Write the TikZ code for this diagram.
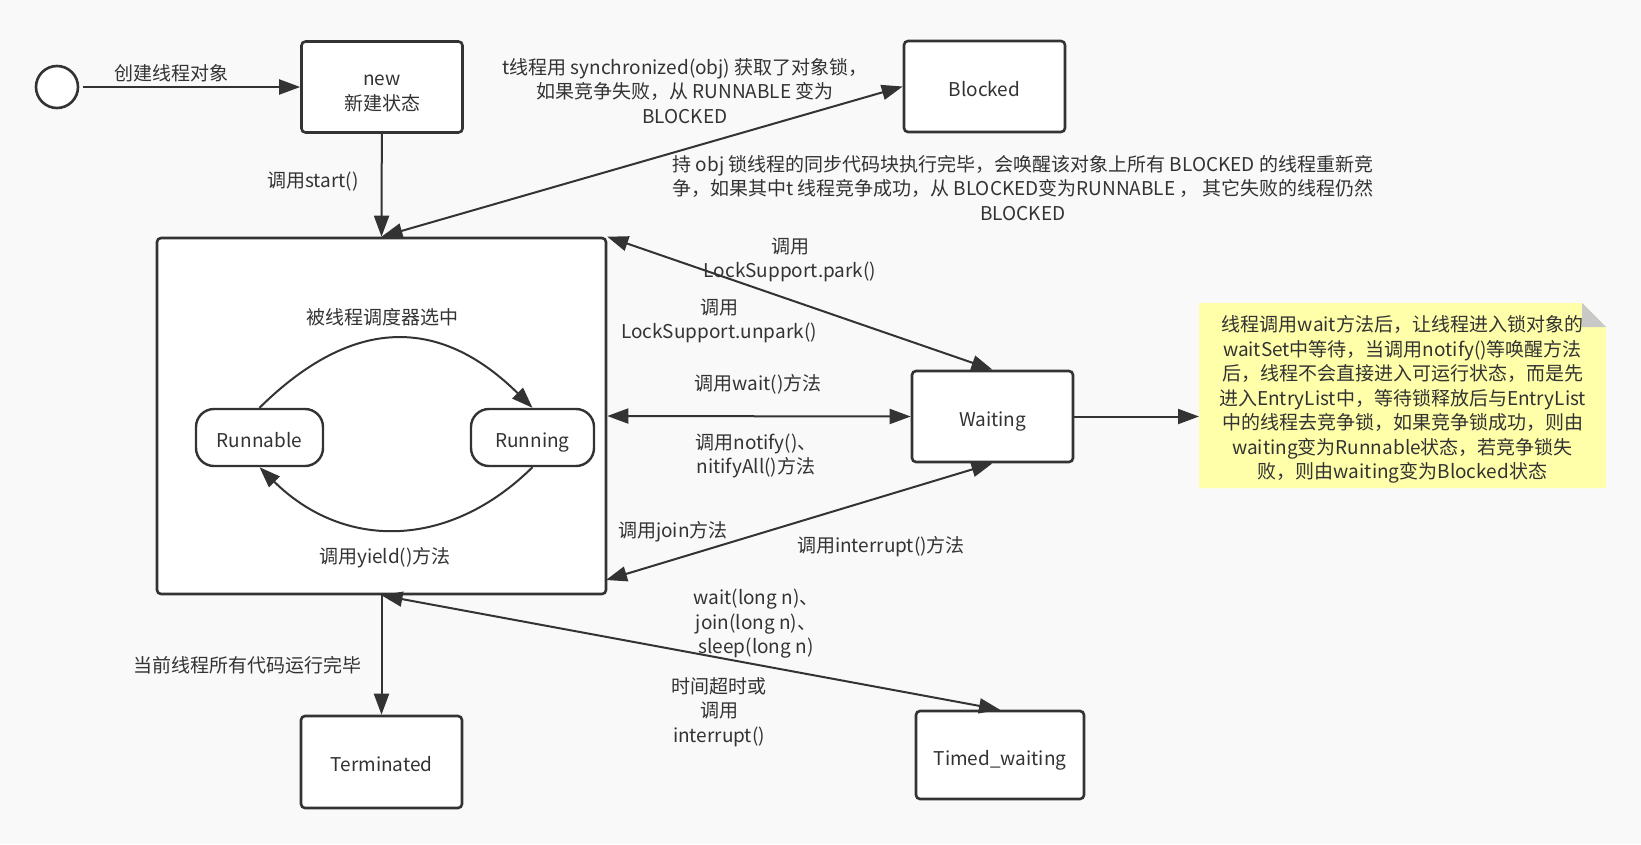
\documentclass[tikz,border=0pt]{standalone}
\usepackage{fontspec}
\setmainfont{Noto Sans CJK SC}
\usetikzlibrary{arrows.meta}
\definecolor{ink}{HTML}{333333}
\definecolor{paper}{HTML}{F9F9F9}
\definecolor{notefill}{HTML}{FFFFAA}
\definecolor{foldfill}{HTML}{C8C8C8}

\begin{document}
\begin{tikzpicture}[x=1pt,y=-1pt,
  every node/.style={text=ink, font=\fontsize{19}{24.5}\selectfont, inner sep=0pt},
  lbl/.style={align=center},
  boxbase/.style={draw=ink, fill=white, line width=2.6pt, rounded corners=4pt,
    minimum width=161pt, minimum height=91pt},
  statebox/.style={boxbase, text height=20pt, text depth=0pt},
  twolinebox/.style={boxbase, align=center},
  pill/.style={draw=ink, fill=white, line width=2.4pt, rounded corners=18pt,
    minimum height=57pt, text height=19pt, text depth=0pt},
  startdot/.style={circle, draw=ink, fill=white, line width=2.6pt, minimum size=42pt},
  link/.style={draw=ink, line width=2pt, -{Triangle[length=21pt,width=15pt]}},
  twoway/.style={draw=ink, line width=2pt,
    {Triangle[length=21pt,width=15pt]}-{Triangle[length=21pt,width=15pt]}},
]
% page
\fill[paper] (0,0) rectangle (1641,844);
\useasboundingbox (0,0) rectangle (1641,844);

% states
\node[startdot] (init) at (57,87) {};
\node[twolinebox] (new) at (382,87) {\rule{0pt}{24pt}new\\新建状态};
\node[statebox] (blocked) at (984.5,86.5) {Blocked};
\node[boxbase, minimum width=449pt, minimum height=356pt] (main) at (381.5,416) {};
\node[pill, minimum width=127pt] (runnable) at (259.5,437.5) {Runnable};
\node[pill, minimum width=123pt] (running) at (532.5,437.5) {Running};
\node[statebox] (waiting) at (992.5,416.5) {Waiting};
\node[statebox, minimum height=92pt, text height=18pt] (terminated) at (381.5,762) {Terminated};
\node[statebox, minimum width=168pt, minimum height=88pt] (timed) at (1000,755) {Timed\_waiting};

% sticky note with folded corner
\fill[notefill] (1199,303) -- (1582,303) -- (1606,327) -- (1606,488) -- (1199,488) -- cycle;
\fill[foldfill] (1582,303) -- (1582,327) -- (1606,327) -- cycle;
\node[lbl] (note) at (1402.5,399.5)
  {线程调用wait方法后，让线程进入锁对象的\\
   waitSet中等待，当调用notify()等唤醒方法\\
   后，线程不会直接进入可运行状态，而是先\\
   进入EntryList中，等待锁释放后与EntryList\\
   中的线程去竞争锁，如果竞争锁成功，则由\\
   waiting变为Runnable状态，若竞争锁失\\
   败，则由waiting变为Blocked状态};
\coordinate (noteedge) at (1199,416.5);

% connectors
\coordinate (joinend) at (606,580);
\draw[link, shorten <=4pt] (init) -- (new);
\draw[link] (new) -- (main.north);
\draw[twoway] (main.north) -- (blocked.west);
\draw[twoway] (main.north east) -- (waiting.north);
\draw[twoway] (main.east) -- (waiting.west);
\draw[twoway] (joinend) -- (waiting.south);
\draw[link] (waiting.east) -- (noteedge);
\draw[link] (main.south) -- (terminated.north);
\draw[twoway] (main.south) -- (timed.north);
\draw[link] (runnable.north) .. controls (352.5,316) and (439.5,316) .. (running.north);
\draw[link] (running.south) .. controls (448.5,550) and (343.5,550) .. (runnable.south);

% labels
\node[lbl] (l1) at (171,73) {创建线程对象};
\node[lbl] (l2) at (313,182) {调用start()};
\node[lbl] (l3) at (685,91) {t线程用 synchronized(obj) 获取了对象锁，\\如果竞争失败，从 RUNNABLE 变为\\BLOCKED};
\node[lbl] (l4) at (1023,188) {持 obj 锁线程的同步代码块执行完毕，会唤醒该对象上所有 BLOCKED 的线程重新竞\\争，如果其中t 线程竞争成功，从 BLOCKED变为RUNNABLE ， 其它失败的线程仍然\\BLOCKED};
\node[lbl] (l5) at (790,260) {调用\\LockSupport.park()};
\node[lbl] (l6) at (719,321) {调用\\LockSupport.unpark()};
\node[lbl] (l7) at (758,384) {调用wait()方法};
\node[lbl] (l8) at (756,456) {调用notify()、\\nitifyAll()方法};
\node[lbl] (l9) at (673,532) {调用join方法};
\node[lbl] (l10) at (881,547) {调用interrupt()方法};
\node[lbl] (l11) at (756,624) {wait(long n)、\\join(long n)、\\sleep(long n)};
\node[lbl] (l12) at (719,712) {时间超时或\\调用\\interrupt()};
\node[lbl] (l13) at (247,665) {当前线程所有代码运行完毕};
\node[lbl] (l14) at (382,317) {被线程调度器选中};
\node[lbl] (l15) at (385,558) {调用yield()方法};
\end{tikzpicture}
\end{document}
